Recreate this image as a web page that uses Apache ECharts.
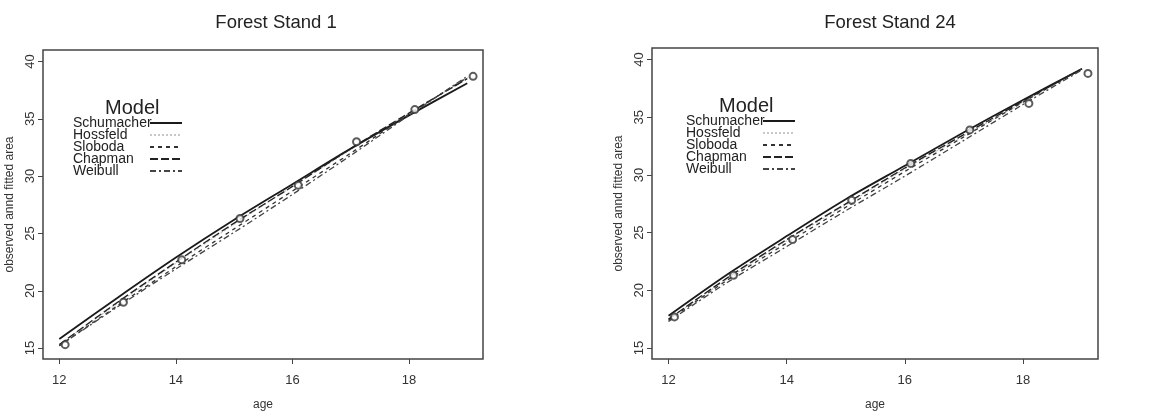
<!DOCTYPE html>
<html><head><meta charset="utf-8">
<script src="https://cdn.jsdelivr.net/npm/echarts@6/dist/echarts.min.js"></script>
<style>html,body{margin:0;padding:0;background:#fff}#c{width:1156px;height:416px}</style>
</head><body><div id="c"></div>
<script>
const models = ['Schumacher','Hossfeld','Sloboda','Chapman','Weibull'];
const fitAges = [12,13,14,15,16,17,18,19];
const obsAges = [12.1,13.1,14.1,15.1,16.1,17.1,18.1,19.1];
const xTicks = [12,14,16,18];
const yTicks = [15,20,25,30,35,40];
// Forest Stand 1
const stand1Obs = [15.3,19.0,22.7,26.3,29.2,33.0,35.8,38.7];
const stand1Schumacher = [15.8,19.4,22.9,26.2,29.3,32.4,35.3,38.1];
const stand1Hossfeld   = [15.3,18.9,22.4,25.8,29.1,32.3,35.5,38.5];
const stand1Sloboda    = [15.2,18.7,22.1,25.4,28.7,32.0,35.4,38.6];
const stand1Chapman    = [15.3,19.0,22.5,25.9,29.1,32.4,35.5,38.5];
const stand1Weibull    = [15.2,18.6,21.9,25.1,28.4,31.8,35.3,38.7];
// Forest Stand 24
const stand24Obs = [17.7,21.3,24.4,27.8,31.0,33.9,36.2,38.8];
const stand24Schumacher = [17.8,21.4,24.7,27.9,30.8,33.7,36.5,39.2];
const stand24Hossfeld   = [17.5,21.0,24.3,27.4,30.5,33.4,36.3,39.2];
const stand24Sloboda    = [17.4,20.9,24.1,27.2,30.3,33.3,36.3,39.2];
const stand24Chapman    = [17.5,21.1,24.4,27.5,30.6,33.5,36.4,39.2];
const stand24Weibull    = [17.3,20.7,23.8,26.9,29.9,33.0,36.1,39.1];

const styles = {
  Schumacher: {color:'#1a1a1a', width:1.8, type:'solid'},
  Hossfeld:   {color:'#c8c8c8', width:1.2, type:[2,2]},
  Sloboda:    {color:'#333', width:1.3, type:[4,4]},
  Chapman:    {color:'#222', width:1.4, type:[8,3]},
  Weibull:    {color:'#444', width:1.3, type:[6,3,2,3]}
};
const panels = [
  {title:'Forest Stand 1', obs:stand1Obs, fits:[stand1Schumacher,stand1Hossfeld,stand1Sloboda,stand1Chapman,stand1Weibull],
   grid:{left:43, top:50, width:440, height:311}, titleX:271, legendLeft:73, legendTop:116, modelX:133, modelY:98},
  {title:'Forest Stand 24', obs:stand24Obs, fits:[stand24Schumacher,stand24Hossfeld,stand24Sloboda,stand24Chapman,stand24Weibull],
   grid:{left:652, top:48, width:446, height:313}, titleX:885, legendLeft:686, legendTop:114, modelX:747, modelY:96}
];
const font = 'Liberation Sans, Arial, sans-serif';
const option = {
  animation:false,
  backgroundColor:'#fff',
  title: panels.map(p=>({text:p.title, left:p.titleX, top:8, textAlign:'center',
    textStyle:{fontFamily:font, fontSize:18.5, fontWeight:'normal', color:'#222'}})),
  grid: panels.map(p=>Object.assign({show:true, borderColor:'#444', borderWidth:1.5, backgroundColor:'transparent'}, p.grid)),
  xAxis: panels.map((p,i)=>({type:'value', gridIndex:i, min:11.72, max:19.27,
    name:'age', nameLocation:'middle', nameGap:40,
    nameTextStyle:{fontFamily:font, fontSize:12, color:'#333'},
    splitLine:{show:false}, axisLine:{show:false},
    axisTick:{show:true, inside:false, length:5, customValues:xTicks, lineStyle:{color:'#444'}},
    axisLabel:{customValues:xTicks, margin:15, fontFamily:font, fontSize:13, color:'#333'}})),
  yAxis: panels.map((p,i)=>({type:'value', gridIndex:i, min:14.05, max:41.0,
    name:'observed annd fitted area', nameLocation:'middle', nameGap:27,
    nameTextStyle:{fontFamily:font, fontSize:12, color:'#333'},
    splitLine:{show:false}, axisLine:{show:false},
    axisTick:{show:true, inside:false, length:5, customValues:yTicks, lineStyle:{color:'#444'}},
    axisLabel:{customValues:yTicks, rotate:90, margin:6, fontFamily:font, fontSize:13, color:'#333'}})),
  legend: panels.map((p,i)=>({orient:'vertical', left:p.legendLeft, top:p.legendTop, align:'right', padding:0,
    data:models, itemWidth:32, itemHeight:8, itemGap:-2, selectedMode:false,
    itemStyle:{opacity:0, borderWidth:0},
    formatter:'{a|{name}}',
    textStyle:{fontFamily:font, fontSize:14, color:'#222', lineHeight:12, padding:0,
      rich:{a:{fontFamily:font, fontSize:14, color:'#222', width:72, align:'left', lineHeight:12}}}})),
  graphic: panels.map(p=>({type:'text', left:p.modelX-28, top:p.modelY,
    style:{text:'Model', fontFamily:font, fontSize:20, fill:'#222'}})),
  series: []
};
panels.forEach((p,i)=>{
  models.forEach((m,k)=>{
    const s = styles[m];
    option.series.push({name:m, type:'line', xAxisIndex:i, yAxisIndex:i, symbol:'none', smooth:0.3,
      data: fitAges.map((a,j)=>[a, p.fits[k][j]]),
      itemStyle:{color:s.color},
      lineStyle:{color:s.color, width:s.width, type:s.type}, z: m==='Hossfeld'?1:2});
  });
  option.series.push({name:'observed', type:'scatter', xAxisIndex:i, yAxisIndex:i, symbol:'emptyCircle', symbolSize:7,
    itemStyle:{color:'#333', borderColor:'#333', borderWidth:1.2}, data: obsAges.map((a,j)=>[a, p.obs[j]]), z:3});
});
const chart = echarts.init(document.getElementById('c'), null, {renderer:'canvas'});
chart.setOption(option);
</script></body></html>
